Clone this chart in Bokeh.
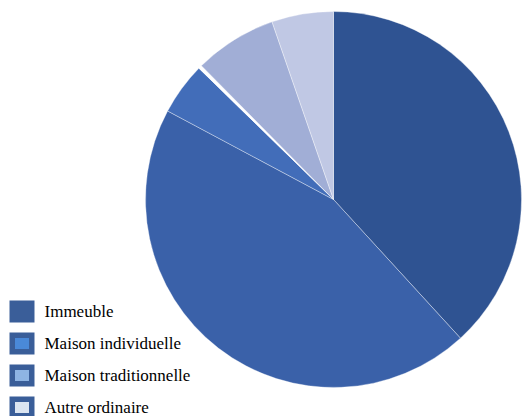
import math
from bokeh.plotting import figure
from bokeh.models import ColumnDataSource, Range1d, Label
from bokeh.embed import file_html
from bokeh.resources import INLINE

# Data (percent shares)
slice_labels = ["Immeuble", "Maison individuelle", "Maison traditionnelle",
                "Autre ordinaire", "Habitat de fortune", "Autre"]
slice_values = [38.2, 44.6, 4.5, 0.3, 7.1, 5.3]
slice_colors = ["#2F5392", "#3A61A9", "#426DB9", "#FFFFFF", "#A1AED6", "#C0C8E4"]

legend_labels = ["Immeuble", "Maison individuelle", "Maison traditionnelle", "Autre ordinaire"]
legend_fill = ["#3A5E99", "#4A89D8", "#8EB4E3", "#DBE5F1"]
legend_border = "#3A5E99"

W, H = 523, 416
p = figure(width=W, height=H, output_backend="svg", toolbar_location=None,
           x_range=Range1d(0, W), y_range=Range1d(0, H), min_border=0)
p.axis.visible = False
p.grid.visible = False
p.outline_line_color = None

total = sum(slice_values)
starts, ends = [], []
cum = 0.0
for v in slice_values:
    a0 = math.pi / 2 - 2 * math.pi * cum / total
    cum += v
    a1 = math.pi / 2 - 2 * math.pi * cum / total
    starts.append(a0)
    ends.append(a1)

src = ColumnDataSource(dict(start=starts, end=ends, color=slice_colors, label=slice_labels))
p.wedge(x=333, y=217, radius=188, start_angle="start", end_angle="end",
        direction="clock", fill_color="color", line_color="white",
        line_width=0.6, line_alpha=0.6, source=src)

# legend (layout in screen pixels: canvas units equal pixels)
LEG_X, LEG_TOP, LEG_PITCH = 21.5, 105, 32
for i, (lab, col) in enumerate(zip(legend_labels, legend_fill)):
    yc = LEG_TOP - i * LEG_PITCH
    p.rect(x=[LEG_X], y=[yc], width=[19.5], height=[16.5], fill_color=col,
           line_color=legend_border, line_width=5.5, line_join="miter")
    p.add_layout(Label(x=44, y=yc, text=lab, text_font="Liberation Serif",
                       text_font_size="17px", text_color="#000000",
                       text_baseline="middle", text_align="left"))

open("out.html", "w").write(file_html(p, INLINE))
